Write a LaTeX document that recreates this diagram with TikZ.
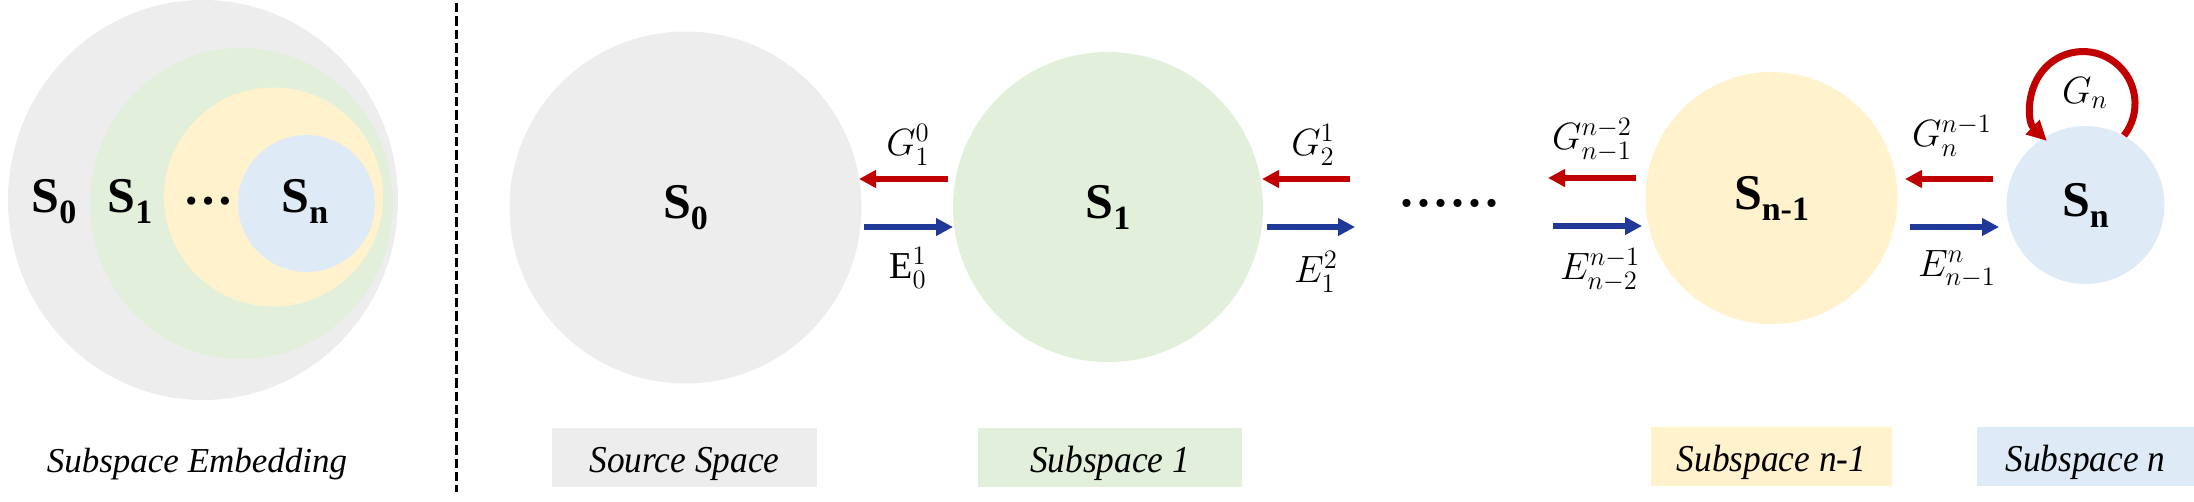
\RequirePackage{fix-cm}
\documentclass[tikz,border=0pt]{standalone}
\usepackage{fontspec}
\setmainfont{Liberation Serif}
\usepackage{graphicx}
\usetikzlibrary{arrows.meta}
\definecolor{cgray}{HTML}{EDEDED}
\definecolor{cgreen}{HTML}{E2EFDA}
\definecolor{cyellow}{HTML}{FFF2CC}
\definecolor{cblue}{HTML}{DEEBF7}
\definecolor{cred}{HTML}{C00000}
\definecolor{carrow}{RGB}{32,56,152}
\newcommand\SLab[1]{{\fontsize{25}{30}\selectfont\bfseries S\raisebox{-5.5pt}{\fontsize{17}{20}\selectfont #1}}}
\newcommand\ML[1]{{\fontsize{19}{22}\selectfont$#1$}}
\newcommand\Cap[1]{\scalebox{0.93}[1]{#1}}
\tikzset{
  bubble/.style={circle, inner sep=0pt, draw=none},
  garrow/.style={draw=cred, line width=3pt, -{Triangle[length=8.5pt,width=8.5pt]}},
  earrow/.style={draw=carrow, line width=3pt, -{Triangle[length=8.5pt,width=8.5pt]}},
  looparrow/.style={draw=cred, line width=3.5pt, -{Triangle[length=10pt,width=9.5pt]}},
  mlabel/.style={inner sep=0pt},
  capbox/.style={inner sep=0pt, minimum height=29.5pt, text height=16.5pt, text depth=2pt, font=\fontsize{19}{22}\selectfont\itshape},
  dots/.style={inner sep=0pt}
}
\begin{document}
\begin{tikzpicture}[x=0.5pt,y=-0.5pt]
\useasboundingbox (0,0) rectangle (2194,502);
% ---- left panel: nested subspaces
\fill[cgray] (203,200) ellipse [x radius=195, y radius=200];
\fill[cgreen] (241.5,203.5) ellipse [x radius=151.5, y radius=155.5];
\fill[cyellow] (273.5,197) circle [radius=109.5];
\fill[cblue] (306.5,203.5) circle [radius=68.5];
\node[mlabel, anchor=base] (l0) at (54,213) {\SLab{0}};
\node[mlabel, anchor=base] (l1) at (130,213) {\SLab{1}};
\node[mlabel, anchor=base] (ld) at (208,205) {\fontsize{25}{30}\selectfont\bfseries …};
\node[mlabel, anchor=base] (ln) at (305,213) {\SLab{n}};
\node[mlabel, anchor=base] (emb) at (197,472) {\fontsize{17.5}{20}\selectfont\itshape Subspace Embedding};
% ---- separator
\draw[line width=1.5pt, dash pattern=on 4.7pt off 2pt] (456,3) -- (456,492);
% ---- main chain
\node[bubble, fill=cgray, minimum size=176pt] (s0) at (685.5,207.5) {\SLab{0}};
\node[bubble, fill=cgreen, minimum size=155pt] (s1) at (1108,207) {\SLab{1}};
\node[bubble, fill=cyellow, minimum size=126pt] (sn1) at (1771.5,198) {\SLab{n-1}};
\node[bubble, fill=cblue, minimum size=79pt] (sn) at (2085.5,205) {\SLab{n}};
\node[dots, anchor=base] (dd) at (1449.5,207) {\fontsize{34}{40}\selectfont ......};
% arrow end points
\coordinate (g1s) at (948,179); \coordinate (g1e) at (859,179);
\coordinate (e1s) at (864,227); \coordinate (e1e) at (953,227);
\coordinate (g2s) at (1350,179); \coordinate (g2e) at (1262,179);
\coordinate (e2s) at (1267,227); \coordinate (e2e) at (1355,227);
\coordinate (g3s) at (1636,178); \coordinate (g3e) at (1548,178);
\coordinate (e3s) at (1553,226); \coordinate (e3e) at (1642,226);
\coordinate (g4s) at (1993,179); \coordinate (g4e) at (1905,179);
\coordinate (e4s) at (1910,227); \coordinate (e4e) at (1999,227);
\draw[garrow] (g1s) -- (g1e);
\draw[earrow] (e1s) -- (e1e);
\draw[garrow] (g2s) -- (g2e);
\draw[earrow] (e2s) -- (e2e);
\draw[garrow] (g3s) -- (g3e);
\draw[earrow] (e3s) -- (e3e);
\draw[garrow] (g4s) -- (g4e);
\draw[earrow] (e4s) -- (e4e);
\draw[looparrow] (sn.61) arc[start angle=38, end angle=-226, radius=52];
% arrow labels
\node[mlabel] (tg1) at (908,145) {\ML{G_1^0}};
\node[mlabel] (te1) at (908,268) {\ML{\mathrm{E}_0^1}};
\node[mlabel] (tg2) at (1313,145) {\ML{G_2^1}};
\node[mlabel] (te2) at (1316,272) {\ML{E_1^2}};
\node[mlabel] (tg3) at (1592,140) {\ML{G_{n-1}^{n-2}}};
\node[mlabel] (te3) at (1600,270) {\ML{E_{n-2}^{n-1}}};
\node[mlabel] (tg4) at (1952,136) {\ML{G_n^{n-1}}};
\node[mlabel] (te4) at (1957,269) {\ML{E_{n-1}^n}};
\node[mlabel] (tgn) at (2085,93) {\ML{G_n}};
% captions
\node[capbox, fill=cgray, minimum width=132.5pt] (c0) at (684.5,457.5) {\Cap{Source Space}};
\node[capbox, fill=cgreen, minimum width=132pt] (c1) at (1110,457.5) {\Cap{Subspace 1}};
\node[capbox, fill=cyellow, minimum width=120.5pt] (c2) at (1771.5,456.5) {\Cap{Subspace n-1}};
\node[capbox, fill=cblue, minimum width=108.5pt] (c3) at (2085.5,456.5) {\Cap{Subspace n}};
\end{tikzpicture}
\end{document}
